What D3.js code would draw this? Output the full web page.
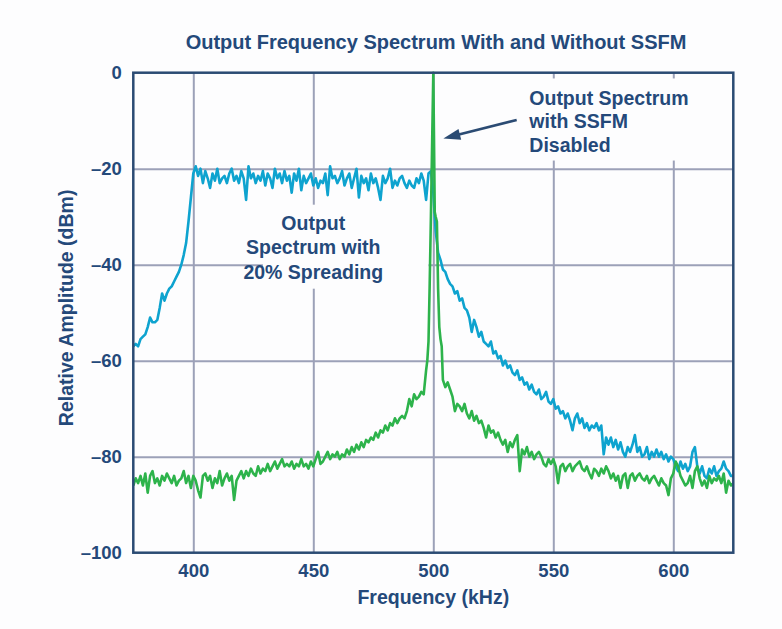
<!DOCTYPE html>
<html><head><meta charset="utf-8">
<script src="https://cdn.jsdelivr.net/npm/d3@7"></script>
<style>
body{margin:0;background:#fff;}
svg{display:block;font-family:"Liberation Sans",Arial,sans-serif;font-weight:bold;}
</style>
</head><body><svg width="782" height="629"></svg>
<script>
// ---------- data ----------
const titleText = "Output Frequency Spectrum With and Without SSFM";
const xTicks = [400, 450, 500, 550, 600];
const yTicks = [0, -20, -40, -60, -80, -100];
const xLabel = "Frequency (kHz)";
const yLabel = "Relative Amplitude (dBm)";

// blue: output spectrum with 20% spreading, 1 kHz steps from 375 to 625 kHz
const blueStartKHz = 375;
const blueDb = [
 -57,-56.5,-57,-55.5,-55,-54.5,-53,-51,-52,-52,
 -51.5,-49,-46,-47.5,-46,-45,-44.5,-43.5,-42.5,-41.5,
 -40,-38,-35.5,-31,-26,-21,-19.5,-21.5,-20,-23,
 -20.5,-22,-24,-21,-22.5,-20,-23,-22,-21.5,-23,
 -21,-20,-22.5,-21.5,-23,-20.5,-22,-26.5,-19.5,-22,
 -21,-23,-21.5,-22.5,-20.5,-23.5,-21,-22,-24,-20,
 -22,-21,-23,-20.5,-22.5,-21.5,-25,-21,-22.5,-20,
 -24.5,-21.5,-23,-22,-21,-23.5,-22,-24,-22.5,-23,
 -21,-25.5,-19.5,-22,-21.5,-23,-22,-20.5,-23.5,-22,
 -21,-24,-22,-20,-26,-21.5,-23,-22,-24.5,-21,
 -23,-22,-24,-26.5,-21.5,-23,-22,-20,-24,-22.5,
 -23.5,-22,-21.5,-23,-24,-22.5,-23.5,-24,-22,-23,
 -21,-22.5,-26.5,-21,-20.5,-25,-33,-37.5,-39,-41,
 -41.5,-43,-44,-44.5,-46,-45.5,-47.5,-47,-49,-49.5,
 -51,-54,-51.5,-53,-55,-54,-56,-56.5,-57,-56,
 -58.5,-58,-59.5,-59,-61,-60,-61.5,-61,-62.5,-63,
 -62,-64,-63.5,-65,-64.5,-66,-65,-66.5,-67,-66,
 -68,-67.5,-66.5,-68.5,-69,-68,-70,-69.5,-71,-70.5,
 -72,-71,-72.5,-74.5,-72,-71,-73,-72,-74,-73,
 -74.5,-73.5,-74,-73,-74.5,-73.5,-79.5,-76,-77.5,-76,
 -78,-76.5,-78.5,-77,-79,-80,-78,-79,-77.5,-75.5,
 -79,-78,-80,-79.5,-78,-80.5,-79,-80,-78.5,-80,
 -79,-80.5,-79.5,-81,-80,-80.5,-82,-83,-81,-82.5,
 -81.5,-83,-82,-79,-78,-82,-83.5,-82,-84,-84.5,
 -82.5,-83.5,-82,-84,-83,-82.5,-81,-82.5,-83,-84,
 -84
];

// green: output spectrum with SSFM disabled
const greenLeftStartKHz = 375;   // 1 kHz steps, 375..497
const greenLeftDb = [
 -86,-84.5,-85.5,-84,-86,-83.5,-87.5,-84,-83,-85.5,
 -84.5,-86,-84,-85,-83.5,-84.5,-85.5,-84,-86,-85,
 -84.5,-83,-85.5,-84,-86.5,-84,-85,-87,-88.5,-84,
 -83.5,-85,-84,-86.5,-84.5,-85.5,-83,-86,-84.5,-83.5,
 -85,-84,-89,-85,-84,-83,-84.5,-83,-84,-82.5,
 -83.5,-84,-82,-83.5,-82.5,-83,-81.5,-83,-82,-81,
 -82.5,-81.5,-80.5,-82,-81.5,-82,-81,-82.5,-81.5,-82,
 -80.5,-82,-81.5,-82.5,-81,-82,-80.5,-79,-81.5,-81,
 -80,-79,-80.5,-79.5,-80,-79,-80.5,-79.5,-80,-78.5,
 -79.5,-78,-79,-77.5,-78.5,-77,-78,-76.5,-77,-76,
 -76.5,-75,-76,-74.5,-75,-73.5,-74.5,-73,-73.5,-72,
 -73,-72,-71.5,-72,-70.5,-68,-69.5,-67,-68,-67.5,
 -66.5,-67,-62
];
const greenPeakKHz = [497.5, 498, 498.5, 499, 499.5, 500, 500.3, 500.6, 501, 501.5, 502, 502.5, 503, 503.5];
const greenPeakDb  = [-60, -56, -44, -30, -15, 0, -14, -29, -30, -31, -45, -53, -55.5, -57];
const greenRightStartKHz = 504;  // 1 kHz steps, 504..625
const greenRightDb = [
 -64,-65.5,-64.5,-66,-67.5,-70.5,-69,-69.5,-70.5,-69,
 -71,-72,-70.5,-72.5,-71.5,-73,-72.5,-74,-76,-73.5,
 -75,-74.5,-76,-75,-76.5,-77.5,-76.5,-79,-77,-78,
 -76.5,-75.5,-83,-78.5,-79.5,-78,-80,-79,-80.5,-79.5,
 -79,-80,-81.5,-82,-80.5,-81.5,-80.5,-82,-85.5,-82,
 -81.5,-83,-82,-81.5,-83,-82,-81.5,-81,-82.5,-83,
 -82,-83.5,-84.5,-82.5,-83,-84,-82.5,-83.5,-82,-83,
 -84.5,-83.5,-85,-84,-86.5,-84,-83.5,-86.5,-84,-83.5,
 -85,-84,-83.5,-84.5,-85,-84,-85.5,-84.5,-84,-85,
 -86,-84.5,-85.5,-86,-88,-84.5,-83.5,-81,-82,-84,
 -85,-86,-85.5,-84,-86.5,-83,-82,-84.5,-86,-85,
 -86.5,-84,-85.5,-84.5,-85,-84,-85.5,-83.5,-87.5,-85,
 -86,-85.5
];

const note1Lines = ["Output", "Spectrum with", "20% Spreading"];
const note2Lines = ["Output Spectrum", "with SSFM", "Disabled"];

// ---------- build series ----------
const blueSeries = blueDb.map((v, i) => ({f: blueStartKHz + i, v}));
const greenSeries = [
  ...greenLeftDb.map((v, i) => ({f: greenLeftStartKHz + i, v})),
  ...greenPeakDb.map((v, i) => ({f: greenPeakKHz[i], v})),
  ...greenRightDb.map((v, i) => ({f: greenRightStartKHz + i, v}))
];

// ---------- layout ----------
const textColor = "#24497a";
const frameColor = "#2b4b73";
const gridColor = "#9ca1b8";
const blueColor = "#0ea3cf";
const greenColor = "#2db34b";
const fontFam = '"Liberation Sans",Arial,sans-serif';

const mLeft = 133.3, mTop = 72.7, W = 600, H = 480;
const svg = d3.select("svg");
svg.append("rect").attr("width", 782).attr("height", 629).attr("fill", "#fdfdfe");

const x = d3.scaleLinear().domain([375, 625]).range([mLeft, mLeft + W]);
const y = d3.scaleLinear().domain([-100, 0]).range([mTop + H, mTop]);

// grid
const grid = svg.append("g");
grid.append("g").attr("transform", `translate(0,${mTop + H})`)
  .call(d3.axisBottom(x).tickValues(xTicks).tickSize(-H).tickFormat(""))
  .call(g => { g.select(".domain").remove(); g.selectAll("line").attr("stroke", gridColor).attr("stroke-width", 2); });
grid.append("g").attr("transform", `translate(${mLeft},0)`)
  .call(d3.axisLeft(y).tickValues(yTicks.filter(t => t !== 0 && t !== -100)).tickSize(-W).tickFormat(""))
  .call(g => { g.select(".domain").remove(); g.selectAll("line").attr("stroke", gridColor).attr("stroke-width", 2); });

// white boxes behind annotations
svg.append("rect").attr("x", x(429)).attr("y", y(-27.5)).attr("width", x(498) - x(429)).attr("height", y(-45) - y(-27.5)).attr("fill", "#fdfdfe");
svg.append("rect").attr("x", x(536)).attr("y", y(-1.2)).attr("width", x(611) - x(536)).attr("height", y(-18.3) - y(-1.2)).attr("fill", "#fdfdfe");

// lines
svg.append("clipPath").attr("id", "clip").append("rect")
  .attr("x", mLeft).attr("y", mTop - 2).attr("width", W).attr("height", H + 2);
const line = d3.line().x(d => x(d.f)).y(d => y(d.v));
const plot = svg.append("g").attr("clip-path", "url(#clip)");
plot.append("path").datum(blueSeries).attr("d", line).attr("fill", "none")
  .attr("stroke", blueColor).attr("stroke-width", 2.6).attr("stroke-linejoin", "round");
plot.append("path").datum(greenSeries).attr("d", line).attr("fill", "none")
  .attr("stroke", greenColor).attr("stroke-width", 2.6).attr("stroke-linejoin", "round");

// frame
svg.append("rect").attr("x", mLeft).attr("y", mTop).attr("width", W).attr("height", H)
  .attr("fill", "none").attr("stroke", frameColor).attr("stroke-width", 2.5);

// tick labels
const fmt = d => d < 0 ? "\u2013" + Math.abs(d) : String(d);
svg.append("g").attr("transform", `translate(0,${mTop + H})`)
  .call(d3.axisBottom(x).tickValues(xTicks).tickSize(0).tickPadding(11).tickFormat(fmt))
  .call(g => { g.select(".domain").remove();
    g.selectAll("text").attr("fill", textColor).style("font-size", "18.5px").style("font-weight", "bold").style("font-family", fontFam); });
svg.append("g").attr("transform", `translate(${mLeft},0)`)
  .call(d3.axisLeft(y).tickValues(yTicks).tickSize(0).tickPadding(11.5).tickFormat(fmt))
  .call(g => { g.select(".domain").remove();
    g.selectAll("text").attr("fill", textColor).style("font-size", "18.5px").style("font-weight", "bold").style("font-family", fontFam); });

// titles
svg.append("text").attr("x", 436).attr("y", 48.5).attr("text-anchor", "middle")
  .attr("fill", textColor).style("font-size", "20px").text(titleText);
svg.append("text").attr("x", x(500)).attr("y", 604).attr("text-anchor", "middle")
  .attr("fill", textColor).style("font-size", "19.5px").text(xLabel);
svg.append("text").attr("transform", `translate(73,${y(-49)}) rotate(-90)`).attr("text-anchor", "middle")
  .attr("fill", textColor).style("font-size", "19.5px").text(yLabel);

// annotation 1
const n1 = svg.append("text").attr("text-anchor", "middle").attr("fill", textColor).style("font-size", "19.5px");
note1Lines.forEach((t, i) => n1.append("tspan").attr("x", x(450)).attr("y", y(-32.8) + i * 24.3).text(t));

// annotation 2
const n2 = svg.append("text").attr("fill", textColor).style("font-size", "19.5px");
note2Lines.forEach((t, i) => n2.append("tspan").attr("x", x(540)).attr("y", y(-6.7) + i * 23.4).text(t));

// arrow
const tail = [x(534.75), y(-9.85)], tip = [x(504.2), y(-13.7)];
const adx = tip[0] - tail[0], ady = tip[1] - tail[1], aL = Math.hypot(adx, ady);
const ux = adx / aL, uy = ady / aL, hl = 17, hw = 5.5;
const base = [tip[0] - ux * hl, tip[1] - uy * hl];
svg.append("line").attr("x1", tail[0]).attr("y1", tail[1]).attr("x2", base[0] + ux * 2).attr("y2", base[1] + uy * 2)
  .attr("stroke", frameColor).attr("stroke-width", 2.6);
svg.append("path").attr("d", `M${tip[0]},${tip[1]}L${base[0] - uy * hw},${base[1] + ux * hw}L${base[0] + uy * hw},${base[1] - ux * hw}Z`)
  .attr("fill", frameColor);
</script></body></html>
